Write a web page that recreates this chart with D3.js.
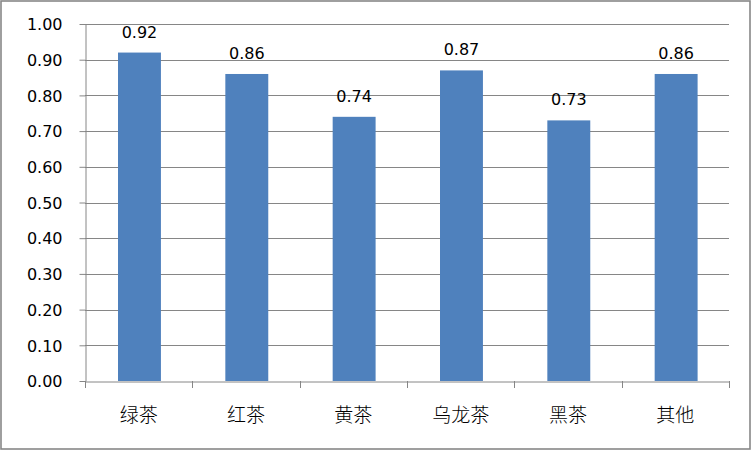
<!DOCTYPE html>
<html><head><meta charset="utf-8">
<script src="https://cdn.jsdelivr.net/npm/d3@7"></script>
<style>html,body{margin:0;padding:0;background:#fff;}svg{display:block;}</style>
</head><body>
<script>
const categories = ["绿茶","红茶","黄茶","乌龙茶","黑茶","其他"];
const values = [0.92,0.86,0.74,0.87,0.73,0.86];
const yTicks = [0,0.1,0.2,0.3,0.4,0.5,0.6,0.7,0.8,0.9,1.0];

(function(){
const W=753,H=451;
const svg=d3.select("body").append("svg").attr("width",W).attr("height",H);
svg.append("rect").attr("x",1).attr("y",1).attr("width",749).attr("height",448)
  .attr("fill","#fff").attr("stroke","#878787").attr("stroke-width",1.6);

const pl=85,pr=729,pt=24,pb=381;
const x=d3.scaleBand().domain(categories).range([pl,pr]).padding(0);
const y=d3.scaleLinear().domain([0,1]).range([pb,pt]);
const grid="#868686";

svg.append("g").selectAll("line").data(yTicks.slice(1)).join("line")
  .attr("x1",pl).attr("x2",pr).attr("y1",d=>Math.round(y(d))+0.5).attr("y2",d=>Math.round(y(d))+0.5)
  .attr("stroke",grid).attr("stroke-width",1);

const ya=svg.append("g").attr("transform",`translate(${pl+0.5},0)`)
  .call(d3.axisLeft(y).tickValues(yTicks).tickFormat(d3.format(".2f")).tickSize(6).tickSizeOuter(0).tickPadding(17));
ya.select(".domain").attr("stroke",grid);
ya.selectAll(".tick line").attr("stroke",grid);
ya.selectAll("text").attr("font-family","DejaVu Sans").attr("font-size",16).attr("fill","#000").attr("dy","0.36em");

const bw=x.bandwidth()*0.4;
svg.append("g").selectAll("rect").data(values).join("rect")
  .attr("x",(d,i)=>x(categories[i])+x.bandwidth()/2-bw/2+0.8)
  .attr("y",d=>y(d)).attr("width",bw).attr("height",d=>pb-y(d)).attr("fill","#4F81BD");

svg.append("g").selectAll("text").data(values).join("text")
  .attr("x",(d,i)=>x(categories[i])+x.bandwidth()/2+0.8)
  .attr("y",d=>y(d)-15).attr("text-anchor","middle")
  .attr("font-family","DejaVu Sans").attr("font-size",16).attr("fill","#000")
  .text(d=>d3.format(".2f")(d));

const xa=svg.append("g").attr("transform",`translate(0,${pb+0.5})`)
  .call(d3.axisBottom(x).tickSize(0).tickSizeOuter(0).tickPadding(27));
xa.select(".domain").attr("stroke",grid);
xa.selectAll("text").attr("font-family","Noto Sans CJK SC").attr("font-size",19).attr("font-weight",300).attr("fill","#000");
const bounds=categories.map(c=>x(c)).concat([pr]);
svg.append("g").selectAll("line").data(bounds).join("line")
  .attr("x1",d=>Math.round(d)+0.5).attr("x2",d=>Math.round(d)+0.5)
  .attr("y1",pb).attr("y2",pb+7).attr("stroke",grid);
})();
</script>
</body></html>
